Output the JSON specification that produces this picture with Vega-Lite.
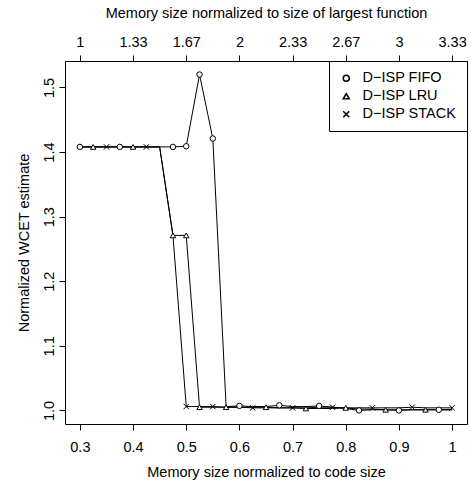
{
  "$schema": "https://vega.github.io/schema/vega-lite/v6.json",
  "width": 402,
  "height": 363,
  "autosize": "none",
  "padding": {"left": 65, "top": 61, "right": 4, "bottom": 56},
  "background": "white",
  "config": {
    "view": {"stroke": "black", "strokeWidth": 1},
    "font": "Liberation Sans",
    "axis": {
      "labelFont": "Liberation Sans",
      "titleFont": "Liberation Sans",
      "labelFontSize": 14.5,
      "titleFontSize": 14.5,
      "titleFontWeight": "normal",
      "labelColor": "black",
      "titleColor": "black",
      "tickColor": "black",
      "tickSize": 6,
      "domain": false,
      "grid": false
    },
    "legend": {
      "labelFont": "Liberation Sans",
      "labelFontSize": 14.5,
      "labelColor": "black"
    }
  },
  "datasets": {
    "curves": [
      {"x": 0.3, "wcet": 1.408, "policy": "D−ISP FIFO"},
      {"x": 0.325, "wcet": 1.408, "policy": "D−ISP FIFO"},
      {"x": 0.35, "wcet": 1.408, "policy": "D−ISP FIFO"},
      {"x": 0.375, "wcet": 1.408, "policy": "D−ISP FIFO"},
      {"x": 0.4, "wcet": 1.408, "policy": "D−ISP FIFO"},
      {"x": 0.425, "wcet": 1.408, "policy": "D−ISP FIFO"},
      {"x": 0.45, "wcet": 1.408, "policy": "D−ISP FIFO"},
      {"x": 0.475, "wcet": 1.408, "policy": "D−ISP FIFO"},
      {"x": 0.5, "wcet": 1.409, "policy": "D−ISP FIFO"},
      {"x": 0.525, "wcet": 1.52, "policy": "D−ISP FIFO"},
      {"x": 0.55, "wcet": 1.421, "policy": "D−ISP FIFO"},
      {"x": 0.575, "wcet": 1.006, "policy": "D−ISP FIFO"},
      {"x": 0.6, "wcet": 1.007, "policy": "D−ISP FIFO"},
      {"x": 0.625, "wcet": 1.006, "policy": "D−ISP FIFO"},
      {"x": 0.65, "wcet": 1.006, "policy": "D−ISP FIFO"},
      {"x": 0.675, "wcet": 1.008, "policy": "D−ISP FIFO"},
      {"x": 0.7, "wcet": 1.006, "policy": "D−ISP FIFO"},
      {"x": 0.725, "wcet": 1.006, "policy": "D−ISP FIFO"},
      {"x": 0.75, "wcet": 1.007, "policy": "D−ISP FIFO"},
      {"x": 0.775, "wcet": 1.005, "policy": "D−ISP FIFO"},
      {"x": 0.8, "wcet": 1.003, "policy": "D−ISP FIFO"},
      {"x": 0.825, "wcet": 1.0, "policy": "D−ISP FIFO"},
      {"x": 0.85, "wcet": 1.001, "policy": "D−ISP FIFO"},
      {"x": 0.875, "wcet": 1.001, "policy": "D−ISP FIFO"},
      {"x": 0.9, "wcet": 1.0, "policy": "D−ISP FIFO"},
      {"x": 0.925, "wcet": 1.001, "policy": "D−ISP FIFO"},
      {"x": 0.95, "wcet": 1.001, "policy": "D−ISP FIFO"},
      {"x": 0.975, "wcet": 1.001, "policy": "D−ISP FIFO"},
      {"x": 1.0, "wcet": 1.001, "policy": "D−ISP FIFO"},
      {"x": 0.3, "wcet": 1.408, "policy": "D−ISP LRU"},
      {"x": 0.325, "wcet": 1.408, "policy": "D−ISP LRU"},
      {"x": 0.35, "wcet": 1.408, "policy": "D−ISP LRU"},
      {"x": 0.375, "wcet": 1.408, "policy": "D−ISP LRU"},
      {"x": 0.4, "wcet": 1.408, "policy": "D−ISP LRU"},
      {"x": 0.425, "wcet": 1.408, "policy": "D−ISP LRU"},
      {"x": 0.45, "wcet": 1.408, "policy": "D−ISP LRU"},
      {"x": 0.475, "wcet": 1.271, "policy": "D−ISP LRU"},
      {"x": 0.5, "wcet": 1.271, "policy": "D−ISP LRU"},
      {"x": 0.525, "wcet": 1.005, "policy": "D−ISP LRU"},
      {"x": 0.55, "wcet": 1.005, "policy": "D−ISP LRU"},
      {"x": 0.575, "wcet": 1.005, "policy": "D−ISP LRU"},
      {"x": 0.6, "wcet": 1.005, "policy": "D−ISP LRU"},
      {"x": 0.625, "wcet": 1.005, "policy": "D−ISP LRU"},
      {"x": 0.65, "wcet": 1.005, "policy": "D−ISP LRU"},
      {"x": 0.675, "wcet": 1.004, "policy": "D−ISP LRU"},
      {"x": 0.7, "wcet": 1.004, "policy": "D−ISP LRU"},
      {"x": 0.725, "wcet": 1.003, "policy": "D−ISP LRU"},
      {"x": 0.75, "wcet": 1.003, "policy": "D−ISP LRU"},
      {"x": 0.775, "wcet": 1.003, "policy": "D−ISP LRU"},
      {"x": 0.8, "wcet": 1.004, "policy": "D−ISP LRU"},
      {"x": 0.825, "wcet": 1.002, "policy": "D−ISP LRU"},
      {"x": 0.85, "wcet": 1.002, "policy": "D−ISP LRU"},
      {"x": 0.875, "wcet": 1.001, "policy": "D−ISP LRU"},
      {"x": 0.9, "wcet": 1.001, "policy": "D−ISP LRU"},
      {"x": 0.925, "wcet": 1.001, "policy": "D−ISP LRU"},
      {"x": 0.95, "wcet": 1.001, "policy": "D−ISP LRU"},
      {"x": 0.975, "wcet": 1.001, "policy": "D−ISP LRU"},
      {"x": 1.0, "wcet": 1.001, "policy": "D−ISP LRU"},
      {"x": 0.3, "wcet": 1.408, "policy": "D−ISP STACK"},
      {"x": 0.325, "wcet": 1.408, "policy": "D−ISP STACK"},
      {"x": 0.35, "wcet": 1.408, "policy": "D−ISP STACK"},
      {"x": 0.375, "wcet": 1.408, "policy": "D−ISP STACK"},
      {"x": 0.4, "wcet": 1.408, "policy": "D−ISP STACK"},
      {"x": 0.425, "wcet": 1.408, "policy": "D−ISP STACK"},
      {"x": 0.45, "wcet": 1.408, "policy": "D−ISP STACK"},
      {"x": 0.475, "wcet": 1.271, "policy": "D−ISP STACK"},
      {"x": 0.5, "wcet": 1.006, "policy": "D−ISP STACK"},
      {"x": 0.525, "wcet": 1.006, "policy": "D−ISP STACK"},
      {"x": 0.55, "wcet": 1.006, "policy": "D−ISP STACK"},
      {"x": 0.575, "wcet": 1.005, "policy": "D−ISP STACK"},
      {"x": 0.6, "wcet": 1.005, "policy": "D−ISP STACK"},
      {"x": 0.625, "wcet": 1.004, "policy": "D−ISP STACK"},
      {"x": 0.65, "wcet": 1.004, "policy": "D−ISP STACK"},
      {"x": 0.675, "wcet": 1.004, "policy": "D−ISP STACK"},
      {"x": 0.7, "wcet": 1.004, "policy": "D−ISP STACK"},
      {"x": 0.725, "wcet": 1.004, "policy": "D−ISP STACK"},
      {"x": 0.75, "wcet": 1.005, "policy": "D−ISP STACK"},
      {"x": 0.775, "wcet": 1.005, "policy": "D−ISP STACK"},
      {"x": 0.8, "wcet": 1.004, "policy": "D−ISP STACK"},
      {"x": 0.825, "wcet": 1.004, "policy": "D−ISP STACK"},
      {"x": 0.85, "wcet": 1.004, "policy": "D−ISP STACK"},
      {"x": 0.875, "wcet": 1.004, "policy": "D−ISP STACK"},
      {"x": 0.9, "wcet": 1.004, "policy": "D−ISP STACK"},
      {"x": 0.925, "wcet": 1.005, "policy": "D−ISP STACK"},
      {"x": 0.95, "wcet": 1.004, "policy": "D−ISP STACK"},
      {"x": 0.975, "wcet": 1.004, "policy": "D−ISP STACK"},
      {"x": 1.0, "wcet": 1.004, "policy": "D−ISP STACK"}
    ],
    "markers": [
      {"x": 0.3, "wcet": 1.408, "policy": "D−ISP FIFO"},
      {"x": 0.375, "wcet": 1.408, "policy": "D−ISP FIFO"},
      {"x": 0.475, "wcet": 1.408, "policy": "D−ISP FIFO"},
      {"x": 0.5, "wcet": 1.409, "policy": "D−ISP FIFO"},
      {"x": 0.525, "wcet": 1.52, "policy": "D−ISP FIFO"},
      {"x": 0.55, "wcet": 1.421, "policy": "D−ISP FIFO"},
      {"x": 0.6, "wcet": 1.007, "policy": "D−ISP FIFO"},
      {"x": 0.675, "wcet": 1.008, "policy": "D−ISP FIFO"},
      {"x": 0.75, "wcet": 1.007, "policy": "D−ISP FIFO"},
      {"x": 0.825, "wcet": 1.0, "policy": "D−ISP FIFO"},
      {"x": 0.9, "wcet": 1.0, "policy": "D−ISP FIFO"},
      {"x": 0.975, "wcet": 1.001, "policy": "D−ISP FIFO"},
      {"x": 0.325, "wcet": 1.408, "policy": "D−ISP LRU"},
      {"x": 0.4, "wcet": 1.408, "policy": "D−ISP LRU"},
      {"x": 0.475, "wcet": 1.271, "policy": "D−ISP LRU"},
      {"x": 0.5, "wcet": 1.271, "policy": "D−ISP LRU"},
      {"x": 0.525, "wcet": 1.005, "policy": "D−ISP LRU"},
      {"x": 0.575, "wcet": 1.005, "policy": "D−ISP LRU"},
      {"x": 0.65, "wcet": 1.005, "policy": "D−ISP LRU"},
      {"x": 0.725, "wcet": 1.003, "policy": "D−ISP LRU"},
      {"x": 0.8, "wcet": 1.004, "policy": "D−ISP LRU"},
      {"x": 0.875, "wcet": 1.001, "policy": "D−ISP LRU"},
      {"x": 0.95, "wcet": 1.001, "policy": "D−ISP LRU"},
      {"x": 0.35, "wcet": 1.408, "policy": "D−ISP STACK"},
      {"x": 0.425, "wcet": 1.408, "policy": "D−ISP STACK"},
      {"x": 0.5, "wcet": 1.006, "policy": "D−ISP STACK"},
      {"x": 0.55, "wcet": 1.006, "policy": "D−ISP STACK"},
      {"x": 0.625, "wcet": 1.004, "policy": "D−ISP STACK"},
      {"x": 0.7, "wcet": 1.004, "policy": "D−ISP STACK"},
      {"x": 0.775, "wcet": 1.005, "policy": "D−ISP STACK"},
      {"x": 0.85, "wcet": 1.004, "policy": "D−ISP STACK"},
      {"x": 0.925, "wcet": 1.005, "policy": "D−ISP STACK"},
      {"x": 1.0, "wcet": 1.004, "policy": "D−ISP STACK"}
    ]
  },
  "layer": [
    {
      "mark": {"type": "rule", "stroke": "black", "strokeWidth": 1, "strokeDash": [4, 4]},
      "encoding": {
        "y": {"datum": 1.0, "type": "quantitative", "scale": {"domain": [0.979, 1.541], "nice": false, "zero": false}}
      }
    },
    {
      "data": {"name": "curves"},
      "mark": {"type": "line", "stroke": "black", "strokeWidth": 1},
      "encoding": {
        "x": {
          "field": "x", "type": "quantitative",
          "scale": {"domain": [0.272, 1.028], "nice": false, "zero": false},
          "axis": {
            "orient": "top",
            "title": "Memory size normalized to size of largest function",
            "values": [0.3, 0.4, 0.5, 0.6, 0.7, 0.8, 0.9, 1.0],
            "labelExpr": "format(datum.value / 0.3, '.3~r')",
            "labelPadding": 6,
            "titlePadding": 14
          }
        },
        "y": {
          "field": "wcet", "type": "quantitative",
          "scale": {"domain": [0.979, 1.541], "nice": false, "zero": false},
          "axis": {
            "title": "Normalized WCET estimate",
            "values": [1.0, 1.1, 1.2, 1.3, 1.4, 1.5],
            "format": ".1f",
            "labelAngle": -90,
            "labelAlign": "center",
            "labelBaseline": "bottom",
            "labelPadding": 3,
            "titlePadding": 10
          }
        },
        "detail": {"field": "policy"},
        "order": {"field": "x"}
      }
    },
    {
      "data": {"name": "markers"},
      "mark": {"type": "point", "filled": true, "fill": "white", "stroke": "black", "strokeWidth": 1, "size": 30, "opacity": 1},
      "encoding": {
        "x": {
          "field": "x", "type": "quantitative",
          "axis": {
            "orient": "bottom",
            "title": "Memory size normalized to code size",
            "values": [0.3, 0.4, 0.5, 0.6, 0.7, 0.8, 0.9, 1.0],
            "format": "~g",
            "labelPadding": 10,
            "titlePadding": 12
          }
        },
        "y": {"field": "wcet", "type": "quantitative"},
        "shape": {
          "field": "policy", "type": "nominal",
          "scale": {
            "domain": ["D−ISP FIFO", "D−ISP LRU", "D−ISP STACK"],
            "range": ["circle", "triangle-up", "M-1,-1L1,1M-1,1L1,-1"]
          },
          "legend": {
            "title": null,
            "orient": "top-right",
            "offset": 0,
            "strokeColor": "black",
            "fillColor": "white",
            "padding": 10,
            "rowPadding": 3,
            "labelOffset": 9,
            "symbolSize": 36,
            "encode": {
              "symbols": {
                "enter": {
                  "stroke": {"value": "black"},
                  "fill": {"value": "white"},
                  "strokeWidth": {"value": 0.8},
                  "opacity": {"value": 1}
                },
                "update": {
                  "stroke": {"value": "black"},
                  "fill": {"value": "white"},
                  "strokeWidth": {"value": 0.8},
                  "opacity": {"value": 1}
                }
              }
            }
          }
        }
      }
    }
  ],
  "resolve": {"axis": {"x": "independent"}}
}
